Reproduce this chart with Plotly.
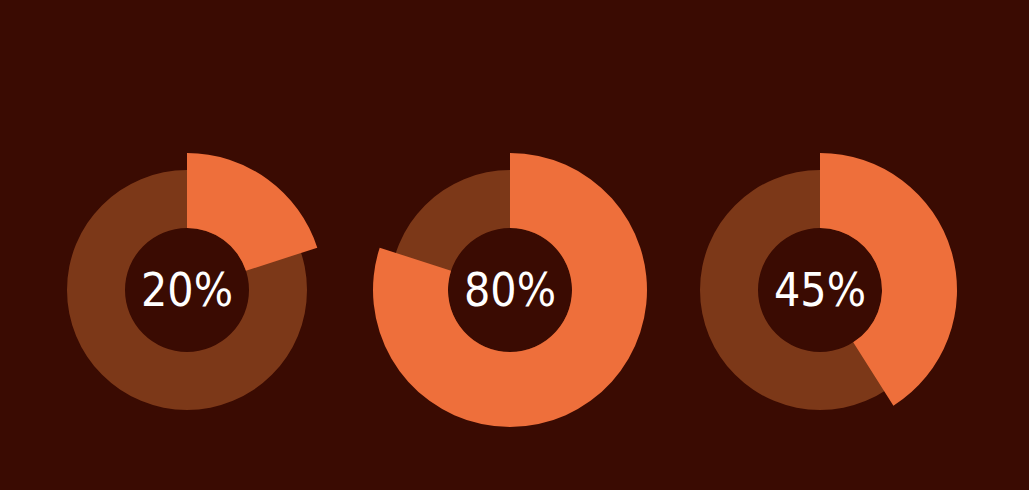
import plotly.graph_objects as go

# ---- data ----
labels = ["20%", "80%", "45%"]      # centre labels as printed
arc_values = [20, 80, 41]           # arc sizes as drawn (percent of full circle)
centers_px = [187, 510, 820]        # layout positions (pixels)

W, H = 1029, 490
CY = 200           # center y from bottom (px)
R_BG = 120         # background ring outer radius
R_VAL = 137        # value arc outer radius
R_IN = 62          # hole radius

BG = "#3a0b02"
RING = "#7c3818"
ARC = "#ee6f3b"

fig = go.Figure()

def dom(cx, r):
    return dict(x=[(cx - r) / W, (cx + r) / W], y=[(CY - r) / H, (CY + r) / H])

for lab, v, cx in zip(labels, arc_values, centers_px):
    # background full ring
    fig.add_trace(go.Pie(
        values=[100], labels=["total"], hole=R_IN / R_BG,
        domain=dom(cx, R_BG), marker=dict(colors=[RING], line=dict(width=0)),
        textinfo="none", hoverinfo="skip", sort=False, showlegend=False,
    ))
    # value arc
    fig.add_trace(go.Pie(
        values=[v, 100 - v], labels=["value", "rest"], hole=R_IN / R_VAL,
        domain=dom(cx, R_VAL), direction="clockwise", rotation=0, sort=False,
        marker=dict(colors=[ARC, "rgba(0,0,0,0)"], line=dict(width=0)),
        textinfo="none", hoverinfo="label+value", showlegend=False,
    ))
    fig.add_annotation(
        x=cx / W, y=CY / H, xref="paper", yref="paper", text=lab,
        showarrow=False,
        font=dict(family="DejaVu Sans Condensed, DejaVu Sans", size=46,
                  color="#ffffff", weight=200),
        xanchor="center", yanchor="middle",
    )

fig.update_layout(
    width=W, height=H, margin=dict(l=0, r=0, t=0, b=0),
    paper_bgcolor=BG, plot_bgcolor=BG,
)

fig.write_html("out.html")
